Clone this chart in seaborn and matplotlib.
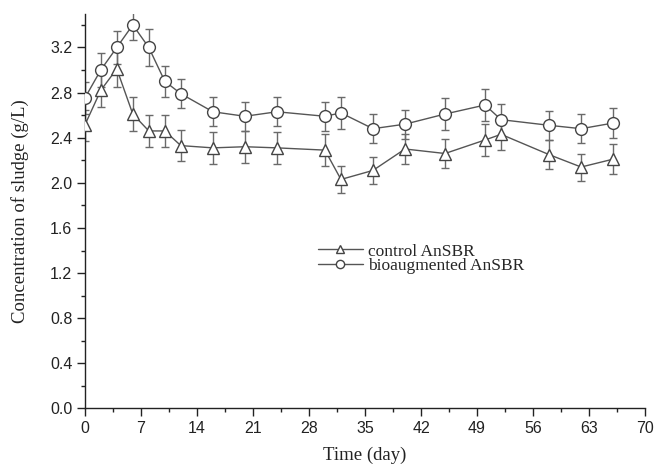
"""Sludge concentration in control and bioaugmented AnSBR."""

import matplotlib
matplotlib.use("Agg")
import matplotlib.pyplot as plt
import seaborn as sns
import pandas as pd
from matplotlib.ticker import MultipleLocator

# data
days = [0, 2, 4, 6, 8, 10, 12, 16, 20, 24, 30, 32, 36, 40, 45, 50, 52, 58, 62, 66]
control = [2.51, 2.82, 3.01, 2.61, 2.46, 2.46, 2.33, 2.31, 2.32, 2.31,
           2.29, 2.03, 2.11, 2.30, 2.26, 2.38, 2.43, 2.25, 2.14, 2.21]
control_err = [0.14, 0.15, 0.16, 0.15, 0.14, 0.14, 0.14, 0.14, 0.14, 0.14,
               0.14, 0.12, 0.12, 0.13, 0.13, 0.14, 0.14, 0.13, 0.12, 0.13]
bioaug = [2.75, 3.00, 3.20, 3.40, 3.20, 2.90, 2.79, 2.63, 2.59, 2.63,
          2.59, 2.62, 2.48, 2.52, 2.61, 2.69, 2.56, 2.51, 2.48, 2.53]
bioaug_err = [0.14, 0.15, 0.15, 0.13, 0.16, 0.14, 0.13, 0.13, 0.13, 0.13,
              0.13, 0.14, 0.13, 0.13, 0.14, 0.14, 0.14, 0.13, 0.13, 0.13]

df = pd.DataFrame({"day": days, "control": control, "bioaug": bioaug})

sns.set_theme(style="ticks")
plt.rcParams["font.family"] = ["Liberation Sans", "DejaVu Sans"]

fig = plt.figure(figsize=(6.57, 4.70), dpi=100)
ax = fig.add_axes([0.129, 0.131, 0.853, 0.840])

line_col = "#555555"
err_col = "#6a6a6a"

ax.errorbar(df["day"], df["control"], yerr=control_err, fmt="none",
            ecolor=err_col, elinewidth=1.0, capsize=2.8, capthick=1.0, zorder=1)
ax.errorbar(df["day"], df["bioaug"], yerr=bioaug_err, fmt="none",
            ecolor=err_col, elinewidth=1.0, capsize=2.8, capthick=1.0, zorder=1)

sns.lineplot(data=df, x="day", y="control", ax=ax, color=line_col, lw=1.0,
             marker="^", markersize=9, markerfacecolor="white",
             markeredgecolor="#444444", markeredgewidth=1.0,
             label="control AnSBR", zorder=3)
sns.lineplot(data=df, x="day", y="bioaug", ax=ax, color=line_col, lw=1.0,
             marker="o", markersize=8.5, markerfacecolor="white",
             markeredgecolor="#444444", markeredgewidth=1.0,
             label="bioaugmented AnSBR", zorder=3)

ax.set_xlim(0, 70)
ax.set_ylim(0, 3.5)
ax.xaxis.set_major_locator(MultipleLocator(7))
ax.xaxis.set_minor_locator(MultipleLocator(3.5))
ax.yaxis.set_major_locator(MultipleLocator(0.4))
ax.yaxis.set_minor_locator(MultipleLocator(0.2))
ax.yaxis.set_major_formatter(matplotlib.ticker.FormatStrFormatter("%.1f"))

for side in ("top", "right"):
    ax.spines[side].set_visible(False)
for side in ("left", "bottom"):
    ax.spines[side].set_color("#222222")
    ax.spines[side].set_linewidth(1.0)

ax.tick_params(which="major", direction="out", length=6, width=1.0,
               color="#222222", labelsize=11.5, labelcolor="#222222", pad=3)
ax.tick_params(which="minor", direction="out", length=3, width=1.0,
               color="#222222")

serif = ["Liberation Serif", "DejaVu Serif"]
ax.set_xlabel("Time (day)", family=serif, fontsize=13.5, color="#222222", labelpad=8)
ax.set_ylabel("Concentration of sludge (g/L)", family=serif, fontsize=13.5,
              color="#222222", labelpad=15)

leg = ax.legend(loc="upper left", bbox_to_anchor=(0.40, 0.44), frameon=False,
                prop={"family": serif, "size": 12.5}, markerscale=0.7,
                handlelength=2.6, handletextpad=0.3, labelspacing=-0.1,
                borderpad=0)

fig.savefig("out.png", dpi=100)
plt.close(fig)
